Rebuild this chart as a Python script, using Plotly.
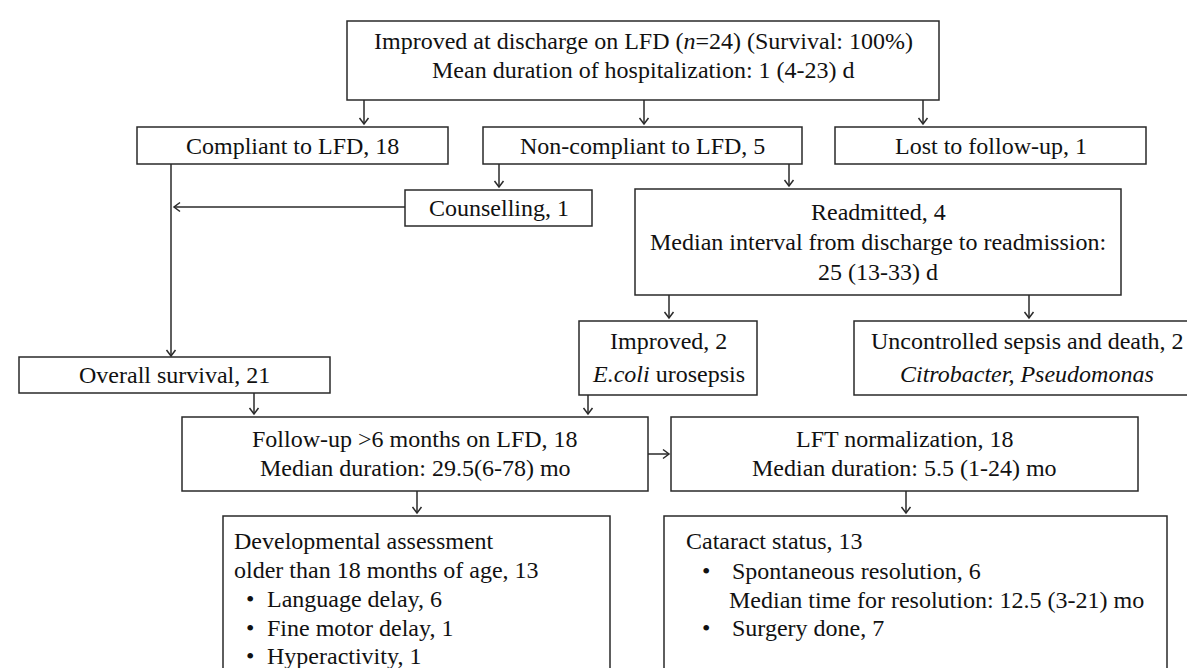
import plotly.graph_objects as go

W, H = 1195, 668
FONT = "Liberation Serif, Times New Roman, serif"
FS = 24
INK = "#111111"
EDGE = "#2a2a2a"

# ---------------- content (text of every node) ----------------
top_lines = ["Improved at discharge on LFD (<i>n</i>=24) (Survival: 100%)",
             "Mean duration of hospitalization: 1 (4-23) d"]
compliant_lines = ["Compliant to LFD, 18"]
noncompliant_lines = ["Non-compliant to LFD, 5"]
lost_lines = ["Lost to follow-up, 1"]
counselling_lines = ["Counselling, 1"]
readmitted_lines = ["Readmitted, 4",
                    "Median interval from discharge to readmission:",
                    "25 (13-33) d"]
survival_lines = ["Overall survival, 21"]
improved_lines = ["Improved, 2", "<i>E.coli</i> urosepsis"]
death_lines = ["Uncontrolled sepsis and death, 2", "<i>Citrobacter, Pseudomonas</i>"]
followup_lines = ["Follow-up &gt;6 months on LFD, 18", "Median duration: 29.5(6-78) mo"]
lft_lines = ["LFT normalization, 18", "Median duration: 5.5 (1-24) mo"]
dev_header = ["Developmental assessment", "older than 18 months of age, 13"]
dev_bullets = ["Language delay, 6", "Fine motor delay, 1", "Hyperactivity, 1"]
cat_header = ["Cataract status, 13"]
cat_items = ["Spontaneous resolution, 6",
             "Median time for resolution: 12.5 (3-21) mo",
             "Surgery done, 7"]
cat_item_bullet = [True, False, True]

# ---------------- layout geometry (pixels, y downward) ----------------
boxes = {
    "top":          dict(x0=339, y0=13,  x1=931,  y1=92,  lines=top_lines, ys=[33, 62]),
    "compliant":    dict(x0=129, y0=119, x1=440,  y1=156, lines=compliant_lines, ys=[138]),
    "noncompliant": dict(x0=475, y0=119, x1=794,  y1=156, lines=noncompliant_lines, ys=[138]),
    "lost":         dict(x0=827, y0=119, x1=1138, y1=156, lines=lost_lines, ys=[138]),
    "counselling":  dict(x0=397, y0=182, x1=584,  y1=218, lines=counselling_lines, ys=[200]),
    "readmitted":   dict(x0=627, y0=181, x1=1113, y1=287, lines=readmitted_lines, ys=[204, 234, 264]),
    "survival":     dict(x0=11,  y0=349, x1=322,  y1=385, lines=survival_lines, ys=[367]),
    "improved":     dict(x0=571, y0=313, x1=749,  y1=387, lines=improved_lines, ys=[333, 366]),
    "death":        dict(x0=846, y0=313, x1=1197, y1=387, lines=death_lines, ys=[333, 366]),
    "followup":     dict(x0=174, y0=409, x1=640,  y1=483, lines=followup_lines, ys=[431, 460]),
    "lft":          dict(x0=663, y0=409, x1=1130, y1=483, lines=lft_lines, ys=[431, 460]),
    "dev":          dict(x0=215, y0=508, x1=602,  y1=700, lines=[], ys=[]),
    "cat":          dict(x0=656, y0=508, x1=1159, y1=700, lines=[], ys=[]),
}
# text centre for the death box (its right border runs off the canvas)
text_cx_override = {"death": 1019}

# vertical connectors: (from box, to box, x)
down_links = [("top", "compliant", 356), ("top", "noncompliant", 636), ("top", "lost", 915),
              ("noncompliant", "counselling", 491), ("noncompliant", "readmitted", 781),
              ("readmitted", "improved", 661), ("readmitted", "death", 1021),
              ("survival", "followup", 246), ("improved", "followup", 580),
              ("followup", "dev", 409), ("lft", "cat", 898)]

fig = go.Figure()
fig.add_trace(go.Scatter(x=[0, W], y=[0, H], mode="markers",
                         marker=dict(opacity=0), hoverinfo="skip", showlegend=False))

shapes = []
annotations = []

LW = 1.5


def add_line(x0, y0, x1, y1):
    shapes.append(dict(type="line", xref="x", yref="y", x0=x0, y0=y0, x1=x1, y1=y1,
                       line=dict(color=EDGE, width=LW)))


def add_head(x, y, dx, dy, L=6, Wd=4.5):
    # open V arrowhead with tip at (x, y), pointing along (dx, dy)
    n = (dx * dx + dy * dy) ** 0.5
    ux, uy = dx / n, dy / n
    px, py = -uy, ux
    bx, by = x - ux * L, y - uy * L
    path = (f"M {bx + px * Wd},{by + py * Wd} L {x},{y} "
            f"L {bx - px * Wd},{by - py * Wd}")
    shapes.append(dict(type="path", xref="x", yref="y", path=path,
                       line=dict(color=EDGE, width=LW)))


def add_arrow(x0, y0, x1, y1):
    add_line(x0, y0, x1, y1)
    add_head(x1, y1, x1 - x0, y1 - y0)


for name, b in boxes.items():
    shapes.append(dict(type="rect", xref="x", yref="y", x0=b["x0"], y0=b["y0"],
                       x1=b["x1"], y1=b["y1"], line=dict(color=EDGE, width=LW),
                       fillcolor="rgba(0,0,0,0)"))
    cx = text_cx_override.get(name, (b["x0"] + b["x1"]) / 2)
    for txt, yy in zip(b["lines"], b["ys"]):
        annotations.append(dict(x=cx, y=yy, xref="x", yref="y", text=txt,
                                showarrow=False, xanchor="center", yanchor="middle",
                                font=dict(family=FONT, size=FS, color=INK)))

for a, bname, x in down_links:
    add_arrow(x, boxes[a]["y1"], x, boxes[bname]["y0"] - 3)

# compliant branch line down to overall survival
xc = 163
add_arrow(xc, boxes["compliant"]["y1"], xc, boxes["survival"]["y0"] - 1)
# counselling back to compliant line
yc = 199
add_arrow(boxes["counselling"]["x0"], yc, xc + 3, yc)
# follow-up -> LFT
ya = 446
add_arrow(boxes["followup"]["x1"], ya, boxes["lft"]["x0"] - 2, ya)


# left-aligned bullet lists
def left_text(x, y, txt):
    annotations.append(dict(x=x, y=y, xref="x", yref="y", text=txt, showarrow=False,
                            xanchor="left", yanchor="middle",
                            font=dict(family=FONT, size=FS, color=INK)))


dev_y = [533, 562, 591, 620, 648]
for i, t in enumerate(dev_header):
    left_text(224, dev_y[i], t)
for j, t in enumerate(dev_bullets):
    left_text(236, dev_y[len(dev_header) + j], "•")
    left_text(257, dev_y[len(dev_header) + j], t)

cat_y = [533, 563, 592, 620]
left_text(676, cat_y[0], cat_header[0])
for j, (t, bul) in enumerate(zip(cat_items, cat_item_bullet)):
    if bul:
        left_text(692, cat_y[1 + j], "•")
        left_text(722, cat_y[1 + j], t)
    else:
        left_text(719, cat_y[1 + j], t)

fig.update_layout(
    width=W, height=H, margin=dict(l=0, r=0, t=0, b=0),
    paper_bgcolor="white", plot_bgcolor="white",
    xaxis=dict(range=[0, W], visible=False, fixedrange=True),
    yaxis=dict(range=[H, 0], visible=False, fixedrange=True),
    shapes=shapes, annotations=annotations, showlegend=False,
)

fig.write_html("out.html")
